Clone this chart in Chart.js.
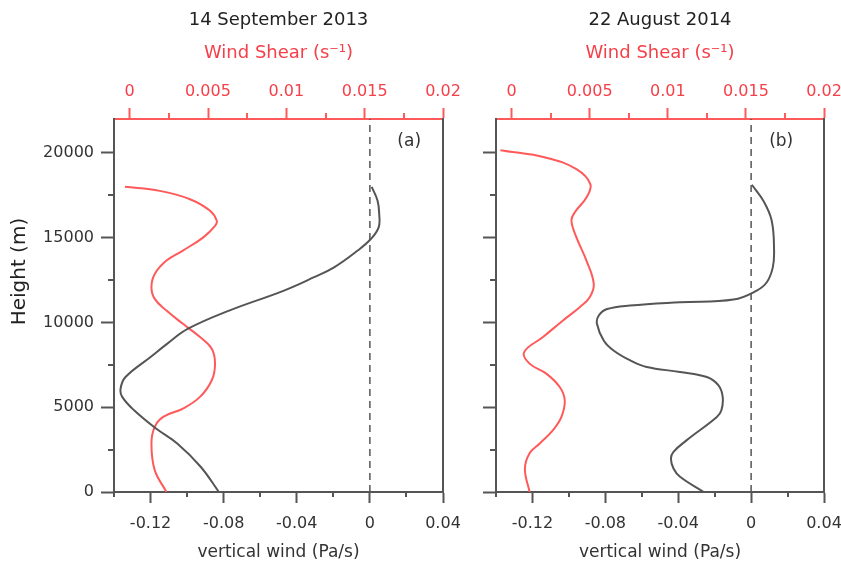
<!DOCTYPE html>
<html>
<head>
<meta charset="utf-8">
<script src="https://cdn.jsdelivr.net/npm/chart.js@4.4.0/dist/chart.umd.min.js"></script>
<style>
  body { margin: 0; background: #fff; }
  #wrap { position: relative; width: 841px; height: 565px; overflow: hidden; }
  canvas { position: absolute; top: 0; }
</style>
</head>
<body>
<div id="wrap">
  <canvas id="chartA" width="473" height="565" style="left:0"></canvas>
  <canvas id="chartB" width="424" height="565" style="left:430px"></canvas>
</div>
<script>
// ticks
var windTicks = [-0.12, -0.08, -0.04, 0, 0.04];
var windMinor = [-0.14, -0.10, -0.06, -0.02, 0.02];
var shearTicks = [0, 0.005, 0.01, 0.015, 0.02];
var shearMinor = [0.0025, 0.0075, 0.0125, 0.0175];
var heightTicks = [0, 5000, 10000, 15000, 20000];
var heightMinor = [2500, 7500, 12500, 17500];

// 14 September 2013
var heightWindA = [0, 1490, 2860, 3745, 4820, 5610, 6100, 6780, 7960, 8750, 9630, 10700, 11880, 12670, 13250, 14240, 14920, 15610, 16390, 17180, 18000];
var windA = [-0.0826, -0.0926, -0.1054, -0.117, -0.129, -0.1355, -0.1364, -0.1337, -0.12, -0.1108, -0.0995, -0.077, -0.047, -0.0305, -0.0196, -0.0067, 0.0005, 0.0048, 0.0051, 0.0042, 0.001];
var heightShearA = [0, 1290, 2860, 3840, 4430, 4920, 5610, 6590, 7570, 8450, 9140, 9920, 10700, 11390, 12080, 12860, 13650, 14240, 15020, 15700, 16000, 16590, 17270, 17760, 18000];
var shearA = [0.00235, 0.0016, 0.00139, 0.0016, 0.00214, 0.0034, 0.00449, 0.00524, 0.00545, 0.00524, 0.00449, 0.0034, 0.00235, 0.0016, 0.00139, 0.0016, 0.00235, 0.0034, 0.0047, 0.00545, 0.00556, 0.00513, 0.00385, 0.00192, -0.0003];

// 22 August 2014
var heightWindB = [0, 900, 1390, 1980, 2370, 3060, 4430, 4820, 5610, 6290, 6780, 7080, 7370, 7760, 8350, 8940, 9920, 10410, 10790, 11000, 11195, 11350, 11880, 12370, 13250, 14240, 16000, 17180, 18120];
var windB = [-0.026, -0.039, -0.0426, -0.044, -0.0426, -0.0353, -0.0188, -0.0163, -0.0156, -0.0179, -0.0243, -0.039, -0.0573, -0.0663, -0.0755, -0.0809, -0.0846, -0.0836, -0.079, -0.0665, -0.039, -0.0097, 0.0031, 0.0086, 0.0119, 0.0126, 0.0113, 0.0067, 0.0004];
var heightShearB = [0, 1350, 2280, 2860, 3650, 4430, 5410, 6190, 6980, 7570, 8250, 9140, 10120, 10900, 11490, 12280, 13650, 15020, 16000, 16490, 17370, 18160, 19040, 19720, 20160];
var shearB = [0.00115, 0.00085, 0.00115, 0.0018, 0.00265, 0.00319, 0.0034, 0.00308, 0.00222, 0.00115, 0.0008, 0.00201, 0.00329, 0.00436, 0.005, 0.00526, 0.00479, 0.00415, 0.00383, 0.00404, 0.00479, 0.00504, 0.00415, 0.00222, -0.00072];

var GRAY = "#555555";
var RED = "#ff5a5a";
var RED_TEXT = "#f5404a";
var FONT = "DejaVu Sans";

function pts(xs, ys) {
  return xs.map(function (x, i) { return { x: x, y: ys[i] }; });
}

// minor ticks, panel tag and the height title
var extras = {
  id: "extras",
  afterDraw: function (chart, args, opts) {
    var ctx = chart.ctx;
    var area = chart.chartArea;
    var sx = chart.scales.x, sx2 = chart.scales.x2, sy = chart.scales.y;
    ctx.save();
    ctx.lineWidth = 2;
    ctx.strokeStyle = GRAY;
    ctx.beginPath();
    windMinor.forEach(function (v) {
      var p = Math.round(sx.getPixelForValue(v));
      ctx.moveTo(p, area.bottom);
      ctx.lineTo(p, area.bottom + 5);
    });
    heightMinor.forEach(function (v) {
      var p = Math.round(sy.getPixelForValue(v));
      ctx.moveTo(area.left, p);
      ctx.lineTo(area.left - 6, p);
    });
    ctx.stroke();
    ctx.strokeStyle = RED;
    ctx.beginPath();
    shearMinor.forEach(function (v) {
      var p = Math.round(sx2.getPixelForValue(v));
      ctx.moveTo(p, area.top);
      ctx.lineTo(p, area.top - 6);
    });
    ctx.stroke();

    ctx.fillStyle = "#333";
    ctx.font = "17px '" + FONT + "'";
    ctx.textAlign = "center";
    ctx.textBaseline = "middle";
    ctx.fillText(opts.tag, sx.getPixelForValue(opts.tagX), sy.getPixelForValue(20650));

    if (opts.yTitle) {
      ctx.translate(20, sy.getPixelForValue(13000));
      ctx.rotate(-Math.PI / 2);
      ctx.font = "20px '" + FONT + "'";
      ctx.fillStyle = "#222";
      ctx.fillText(opts.yTitle, 0, 0);
    }
    ctx.restore();
  }
};

function buildChart(canvasId, title, windH, wind, shearH, shear, yWidth, showY, tag, tagX, yTitle) {
  var ctx = document.getElementById(canvasId).getContext("2d");
  return new Chart(ctx, {
    type: "line",
    data: {
      datasets: [
        {
          data: [{ x: 0, y: 0 }, { x: 0, y: 22000 }],
          xAxisID: "x",
          yAxisID: "y",
          borderColor: GRAY,
          borderWidth: 1.5,
          borderDash: [7, 5],
          pointRadius: 0
        },
        {
          data: pts(wind, windH),
          xAxisID: "x",
          yAxisID: "y",
          borderColor: GRAY,
          borderWidth: 2,
          pointRadius: 0,
          tension: 0.4
        },
        {
          data: pts(shear, shearH),
          xAxisID: "x2",
          yAxisID: "y",
          borderColor: RED,
          borderWidth: 2,
          pointRadius: 0,
          tension: 0.4
        }
      ]
    },
    options: {
      indexAxis: "y",
      responsive: false,
      animation: false,
      layout: { padding: { left: 0, right: 30, top: 0, bottom: 0 } },
      plugins: {
        legend: { display: false },
        tooltip: { enabled: false },
        title: {
          display: true,
          text: title,
          fullSize: false,
          color: "#222",
          font: { family: FONT, size: 18, weight: "normal" },
          padding: { top: 10, bottom: 4 }
        },
        extras: { tag: tag, tagX: tagX, yTitle: yTitle }
      },
      scales: {
        x: {
          type: "linear",
          position: "bottom",
          min: -0.14,
          max: 0.04,
          afterBuildTicks: function (s) { s.ticks = windTicks.map(function (v) { return { value: v }; }); },
          afterFit: function (s) { s.height = 73; },
          ticks: {
            color: "#333",
            padding: 11,
            maxRotation: 0,
            font: { family: FONT, size: 16 },
            callback: function (v) { return String(v); }
          },
          grid: { drawOnChartArea: false, tickLength: 11, tickWidth: 2, tickColor: GRAY },
          border: { color: GRAY, width: 2 },
          title: {
            display: true,
            text: "vertical wind (Pa/s)",
            color: "#333",
            font: { family: FONT, size: 17 },
            padding: { top: 0, bottom: 2 }
          }
        },
        x2: {
          type: "linear",
          position: "top",
          min: -0.001,
          max: 0.02,
          afterBuildTicks: function (s) { s.ticks = shearTicks.map(function (v) { return { value: v }; }); },
          afterFit: function (s) { s.height = 83.4; },
          ticks: {
            color: RED_TEXT,
            padding: 7,
            maxRotation: 0,
            font: { family: FONT, size: 16 },
            callback: function (v) { return String(v); }
          },
          grid: { drawOnChartArea: false, tickLength: 11, tickWidth: 2, tickColor: RED },
          border: { color: RED, width: 2 },
          title: {
            display: true,
            text: "Wind Shear (s\u207B\u00B9)",
            color: RED_TEXT,
            font: { family: FONT, size: 18 },
            padding: { top: 7, bottom: 0 }
          }
        },
        y: {
          type: "linear",
          position: "left",
          min: 0,
          max: 22000,
          afterBuildTicks: function (s) { s.ticks = heightTicks.map(function (v) { return { value: v }; }); },
          afterFit: function (s) { s.width = yWidth; },
          ticks: {
            display: showY,
            color: "#333",
            padding: 7,
            font: { family: FONT, size: 16 },
            callback: function (v) { return String(v); }
          },
          grid: { drawOnChartArea: false, tickLength: 13, tickWidth: 2, tickColor: GRAY },
          border: { color: GRAY, width: 2 }
        },
        yr: {
          type: "linear",
          position: "right",
          min: 0,
          max: 22000,
          afterFit: function (s) { s.width = 0; },
          ticks: { display: false },
          grid: { display: false },
          border: { color: GRAY, width: 2 }
        }
      }
    },
    plugins: [extras]
  });
}

buildChart("chartA", "14 September 2013", heightWindA, windA, heightShearA, shearA, 114, true, "(a)", 0.0215, "Height (m)");
buildChart("chartB", "22 August 2014", heightWindB, windB, heightShearB, shearB, 66, false, "(b)", 0.0165, null);
</script>
</body>
</html>
